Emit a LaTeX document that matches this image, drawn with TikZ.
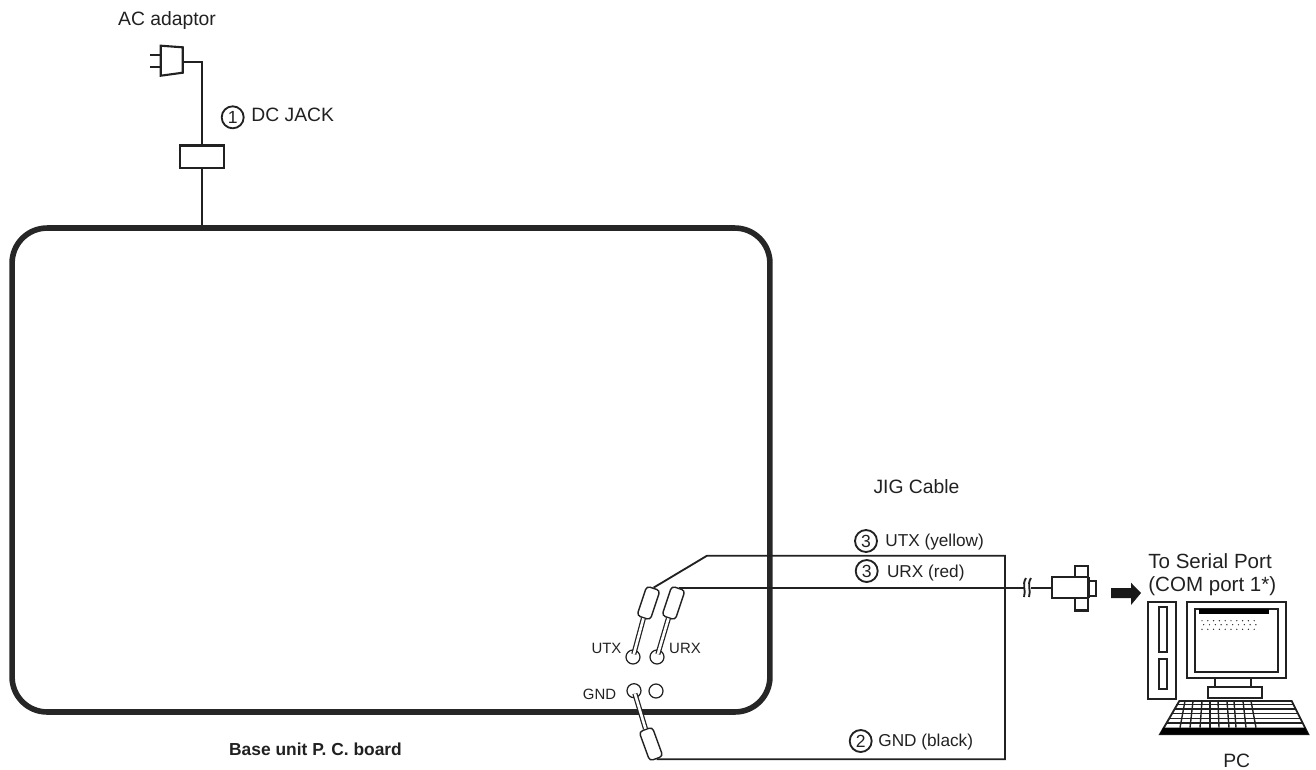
\documentclass[tikz,border=0pt]{standalone}
\usepackage{fontspec}
\setmainfont{Liberation Sans}
\definecolor{inkline}{gray}{0.13}
\tikzset{
    wire/.style={draw=inkline, line width=1.05pt},
    label/.style={inner sep=0pt, font=\fontsize{11}{12}\selectfont, text=inkline},
    cablelabel/.style={inner sep=0pt, font=\fontsize{9.8}{11}\selectfont, text=inkline},
    portlabel/.style={inner sep=0pt, font=\fontsize{11.7}{13}\selectfont, text=inkline},
    smalllabel/.style={inner sep=0pt, font=\fontsize{8.5}{10}\selectfont, text=inkline},
    num/.style={draw=inkline, line width=1.05pt, circle, inner sep=0pt, minimum size=0.44cm, font=\fontsize{10}{10}\selectfont, text=inkline},
    pad/.style={draw=inkline, line width=0.7pt, circle, inner sep=0pt, minimum size=0.28cm},
    tube/.style={draw=inkline, line width=0.8pt, fill=white, rounded corners=2pt, inner sep=0pt, minimum width=0.62cm, minimum height=0.28cm},
    pin/.style={draw=inkline, line width=0.7pt, double=white, double distance=1.5pt}
}
\begin{document}
\begin{tikzpicture}[x=0.02cm, y=-0.02cm, >=stealth]
    \useasboundingbox (0, 0) rectangle (1316, 769);

    % Base unit board
    \node[draw=black!85, line width=3.2pt, rounded corners=0.7cm, minimum width=15.16cm, minimum height=9.68cm, inner sep=0pt] (board) at (391, 470) {};
    \node[inner sep=0pt, text=inkline, font=\fontsize{9.9}{12}\selectfont\bfseries] (boardname) at (315.5, 749) {Base unit P. C. board};

    % AC adaptor
    \node[label] (adaptor) at (167, 20) {AC adaptor};
    \draw[wire, line width=1.2pt] (160.7, 45.7) -- (182.7, 47.3) -- (182.7, 72.7) -- (160.7, 75.7) -- cycle;
    \draw[wire] (150, 55.3) -- (160.7, 55.3);
    \draw[wire] (150, 66.7) -- (160.7, 66.7);
    \coordinate (plugout) at (182.7, 62);

    % DC jack
    \node[wire, draw, line width=1.2pt, minimum width=0.894cm, minimum height=0.45cm, inner sep=0pt] (jack) at (202, 156.7) {};
    \draw[wire] (plugout) -| (jack.north);
    \draw[wire] (jack.south) -- (jack.south |- board.north);
    \node[num] (numjack) at (232.7, 117.3) {1};
    \node[label, anchor=west] (jacklabel) at (251, 114.5) {DC JACK};

    % Pads
    \node[pad] (utxpad) at (633, 657) {};
    \node[pad] (urxpad) at (657, 657) {};
    \node[pad] (gndpad) at (634, 690.7) {};
    \node[pad] (nopad) at (656, 691) {};
    \node[smalllabel] (utxname) at (606.5, 648) {UTX};
    \node[smalllabel] (urxname) at (685, 648) {URX};
    \node[smalllabel] (gndname) at (599.5, 694) {GND};

    % Clips
    \node[tube, rotate=71.6] (utxtube) at (648.5, 603) {};
    \node[tube, rotate=71.6] (urxtube) at (673.5, 603) {};
    \node[tube, rotate=-70] (gndtube) at (651, 744) {};
    \draw[pin, shorten >=0.06cm] (utxtube.west) -- (utxpad.center);
    \draw[pin, shorten >=0.06cm] (urxtube.west) -- (urxpad.center);
    \draw[pin, shorten >=0.06cm] (gndtube.west) -- (gndpad.center);

    % JIG cable
    \node[label] (jigname) at (916.5, 487) {JIG Cable};
    \coordinate (utxelbow) at (707, 555.7);
    \coordinate (cabletop) at (1005, 555.7);
    \draw[wire] (utxtube.east) -- (utxelbow) -- (cabletop) -- (cabletop |- gndtube.east) -- (gndtube.east);
    \node[num] (numutx) at (866, 541) {3};
    \node[cablelabel, anchor=west] (utxlabel) at (885, 542) {UTX (yellow)};
    \node[num] (numurx) at (866.7, 571) {3};
    \node[cablelabel, anchor=west] (urxlabel) at (886.7, 573) {URX (red)};
    \node[num] (numgnd) at (860.7, 741) {2};
    \node[cablelabel, anchor=west] (gndlabel) at (878, 742.5) {GND (black)};

    % Serial plug
    \node[wire, draw, fill=white, minimum width=0.72cm, minimum height=0.42cm, inner sep=0pt] (plug) at (1070, 587.8) {};
    \draw[wire, line width=1.2pt] (1075, 577.3) |- (1088.3, 566) -- (1088.3, 577.3);
    \draw[wire, line width=1.2pt] (1075, 598.3) |- (1088.3, 610.5) -- (1088.3, 598.3);
    \draw[wire, line width=1.2pt] (1088, 580.7) -| (1096, 596) -- (1088, 596);
    \draw[wire, line width=1.4pt] (1088.3, 577.3) -- (1088.3, 598.3);
    \coordinate (breakleft) at (1024.5, 587.8);
    \coordinate (breakright) at (1030.5, 587.8);
    \draw[wire] (urxtube.east) -- (urxtube.east -| breakleft);
    \draw[wire] (breakright) -- (plug.west);
    \draw[wire] (1026, 578) .. controls (1021.5, 585) and (1026.5, 590) .. (1024, 597);
    \draw[wire] (1031, 578) .. controls (1026.5, 585) and (1031.5, 590) .. (1029, 597);

    % Arrow to PC
    \fill[black!90] (1111, 588) -- (1131, 588) -- (1131, 582.7) -- (1141, 593) -- (1131, 605) -- (1131, 598) -- (1111, 598) -- cycle;
    \node[portlabel, anchor=west] (portname) at (1148, 561) {To Serial Port};
    \node[portlabel, anchor=west] (comname) at (1148, 586) {(COM port 1*)};

    % PC tower
    \draw[wire] (1147.7, 601.7) rectangle (1176, 699.3);
    \draw[wire] (1159, 606.7) rectangle (1167.3, 651.7);
    \draw[wire] (1159, 659.3) rectangle (1167.3, 689.3);

    % Monitor
    \draw[wire] (1186.7, 601.7) rectangle (1285.7, 678.3);
    \draw[wire] (1195.3, 609) rectangle (1278.3, 672.3);
    \fill[black] (1199.3, 609) rectangle (1269, 614);
    \foreach \row/\shift in {620.7/0, 624.7/1.7, 629.3/0}
        \foreach \i in {0,...,9}
            \fill[inkline] (1202 + \shift + \i*5.8, \row) circle (0.7);
    \draw[wire] (1215, 678.3) rectangle (1251, 687);
    \draw[wire] (1207.7, 687) rectangle (1262.3, 697.7);

    % Keyboard
    \draw[wire] (1179.3, 701) -- (1291.7, 701) -- (1308.3, 734.3) -- (1160, 734.3) -- cycle;
    \fill[black] (1163, 727.7) -- (1305, 727.7) -- (1308.3, 734.3) -- (1160, 734.3) -- cycle;
    \foreach \y/\xa/\xb in {704.3/1176.2/1293.4, 709/1173.6/1295.7, 713.7/1171/1298, 718.3/1168.5/1300.4, 723/1166/1302.7}
        \draw[wire, line width=0.8pt] (\xa, \y) -- (\xb, \y);
    \foreach \xa/\xb in {1185/1180, 1193/1190, 1202/1200, 1210/1210, 1218/1219, 1227/1229, 1234/1236, 1243/1246, 1251/1256}
        \draw[wire, line width=0.8pt] (\xa, 701) -- (\xb, 727.7);
    \node[label] (pcname) at (1236.7, 760.5) {PC};
\end{tikzpicture}
\end{document}
